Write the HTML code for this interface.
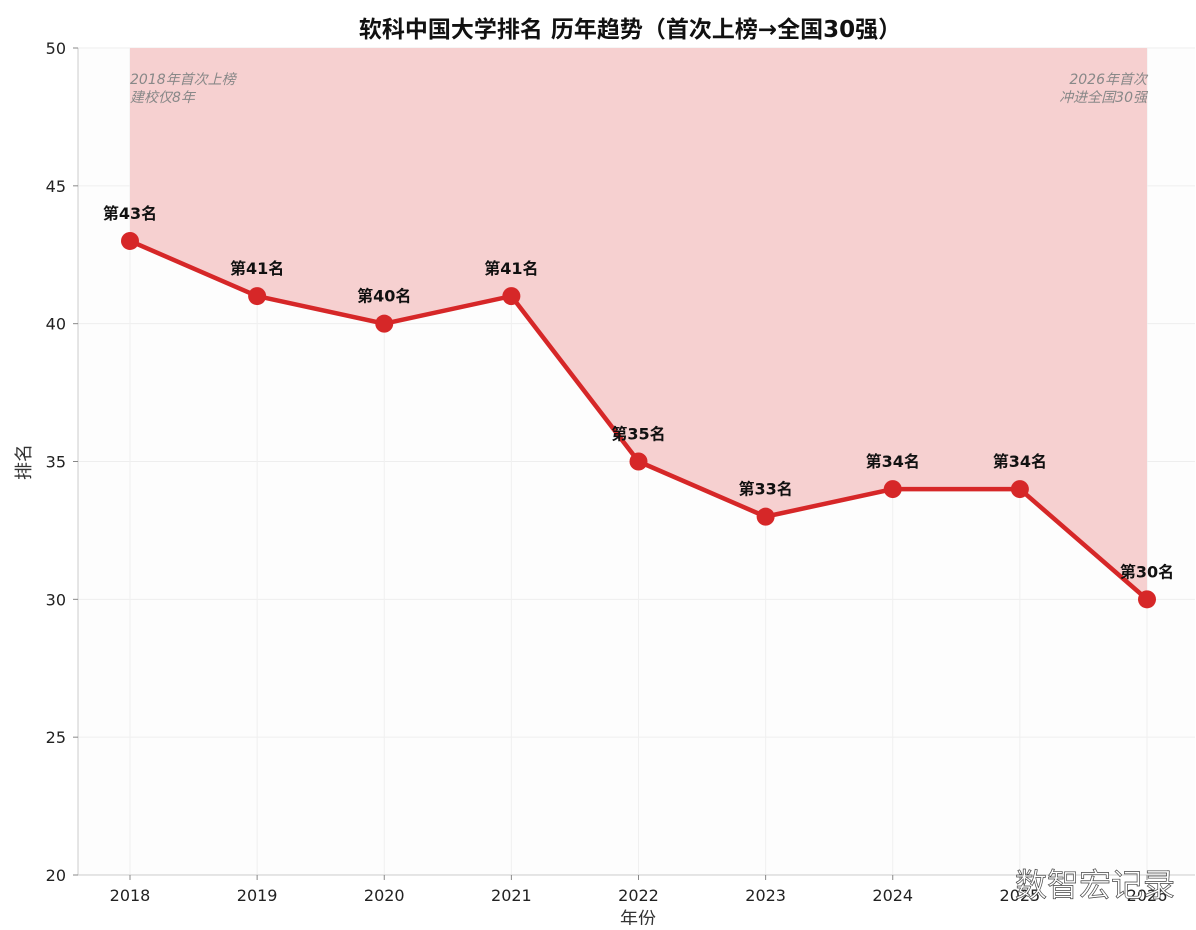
<!DOCTYPE html>
<html><head><meta charset="utf-8"><style>
body{margin:0;background:#fff;}
svg text{font-family:"DejaVu Sans","Noto Sans CJK SC",sans-serif;}
</style></head><body>
<svg width="1196" height="925" viewBox="0 0 1196 925">
<rect x="0" y="0" width="1196" height="925" fill="#fff"/>
<rect x="78" y="48" width="1117" height="827" fill="#fdfdfd"/>
<g id="grid"></g>
<path id="area" fill="#f6d0d0"/>
<line x1="78" y1="48" x2="78" y2="875" stroke="#ccc"/>
<line x1="78" y1="875" x2="1195" y2="875" stroke="#ccc"/>
<g id="ticks"></g>
<path id="line" fill="none" stroke="#d62728" stroke-width="4.5" stroke-linejoin="round"/>
<g id="marks"></g>
<text x="630" y="37" text-anchor="middle" font-size="23" font-weight="bold" fill="#111">软科中国大学排名 历年趋势（首次上榜→全国30强）</text>
<text x="638" y="925" text-anchor="middle" font-size="18" fill="#333">年份</text>
<text x="30" y="462" text-anchor="middle" font-size="18" fill="#333" transform="rotate(-90 30 462)">排名</text>
<text x="130" y="84" font-size="14" font-style="italic" fill="#888"><tspan x="130">2018年首次上榜</tspan><tspan x="130" dy="18">建校仅8年</tspan></text>
<text x="1147" y="84" font-size="14" font-style="italic" fill="#888" text-anchor="end"><tspan x="1147">2026年首次</tspan><tspan x="1147" dy="18">冲进全国30强</tspan></text>
<text x="1095" y="896" text-anchor="middle" font-size="32" fill="#fff" stroke="#444" stroke-width="0.7">数智宏记录</text>
</svg>
<script>
const years=[2018,2019,2020,2021,2022,2023,2024,2025,2026];
const ranks=[43,41,40,41,35,33,34,34,30];
const yTicks=[20,25,30,35,40,45,50];
const NS="http://www.w3.org/2000/svg";
const xS=i=>130+i*(1147-130)/(years.length-1);
const yS=v=>875-(v-20)*(827/30);
function mk(tag,attrs,parent,txt){const e=document.createElementNS(NS,tag);for(const k in attrs)e.setAttribute(k,attrs[k]);if(txt!==undefined)e.textContent=txt;parent.appendChild(e);return e;}
const grid=document.getElementById('grid'),ticks=document.getElementById('ticks'),marks=document.getElementById('marks');
yTicks.forEach(t=>{
 const l=mk('line',{x1:78,x2:1195,y1:yS(t),y2:yS(t),stroke:'#eee'},grid);
 
 
 const tx=mk('text',{x:66,y:yS(t)+6,'text-anchor':'end','font-size':16,fill:'#222'},ticks,t);
 
 
 mk('line',{x1:73,x2:78,y1:yS(t),y2:yS(t),stroke:'#888'},ticks);
});
years.forEach((y,i)=>{
 const l=mk('line',{x1:xS(i),x2:xS(i),y1:48,y2:875,stroke:'#f0f0f0'},grid);
 
 
 mk('line',{x1:xS(i),x2:xS(i),y1:875,y2:880,stroke:'#888'},ticks);
 const tx=mk('text',{x:xS(i),y:901,'text-anchor':'middle','font-size':16,fill:'#222'},ticks,y);
 
 
});
let d='',a='M'+xS(0)+','+yS(50);
ranks.forEach((r,i)=>{d+=(i?'L':'M')+xS(i)+','+yS(r);a+='L'+xS(i)+','+yS(r);});
a+='L'+xS(ranks.length-1)+','+yS(50)+'Z';
document.getElementById('line').setAttribute('d',d);
document.getElementById('area').setAttribute('d',a);
ranks.forEach((r,i)=>{
 const c=mk('circle',{cx:xS(i),cy:yS(r),r:9,fill:'#d62728'},marks);
 
 
 const t=mk('text',{x:xS(i),y:yS(r)-22,'text-anchor':'middle','font-size':16,'font-weight':'bold',fill:'#111'},marks,'第'+r+'名');
 
 
});
</script>
</body></html>
